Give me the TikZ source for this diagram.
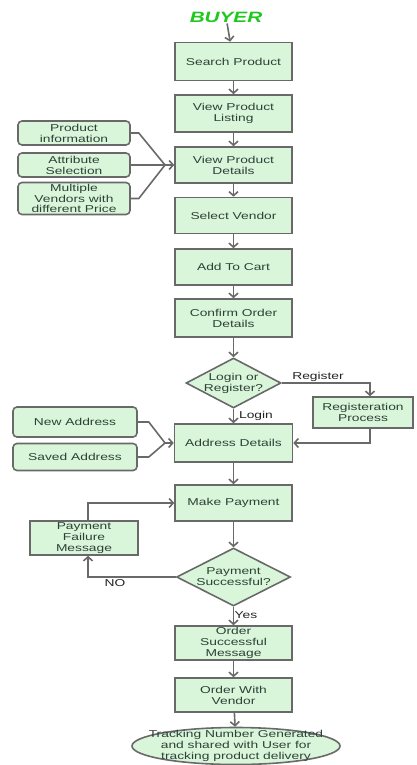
\documentclass[tikz,border=0pt]{standalone}
\usepackage{fontspec}
\setmainfont[FakeStretch=1.38]{Liberation Sans}
\usetikzlibrary{shapes.geometric,arrows.meta}
\definecolor{boxfill}{RGB}{218,246,218}
\definecolor{boxline}{RGB}{105,105,105}
\definecolor{txt}{RGB}{45,65,55}
\definecolor{buyergreen}{RGB}{30,200,30}
\definecolor{labtxt}{RGB}{35,35,35}
\begin{document}
\begin{tikzpicture}[x=1pt,y=-1pt,
  base/.style={draw=boxline, line width=1.6pt, fill=boxfill, text=txt,
    font=\fontsize{10}{11}\selectfont, align=center, inner sep=0pt},
  mainbox/.style={base, minimum width=117pt, minimum height=#1},
  sqbox/.style={base},
  rbox/.style={base, rounded corners=4pt},
  dia/.style={base, diamond},
  txtlab/.style={text=txt, font=\fontsize{10}{11}\selectfont, align=center, inner sep=0pt},
  flowlab/.style={text=labtxt, font=\fontsize{10}{11}\selectfont, inner sep=0pt},
  conn/.style={draw=boxline, line width=1.6pt},
  arr/.style={conn, -{Straight Barb[length=4pt,width=9pt]}}
]
\useasboundingbox (0,0) rectangle (417,765);

\node[font=\fontsize{15}{15}\selectfont\bfseries\itshape, text=buyergreen, inner sep=1pt] (buyer) at (226,17) {BUYER};
\node[mainbox=38pt] (search) at (233.5,61.5) {Search Product};
\node[mainbox=37pt] (listing) at (233.5,113.5) {View Product\\Listing};
\node[mainbox=36pt] (details) at (233.5,165) {View Product\\Details};
\node[mainbox=36pt] (vendor) at (233.5,215.5) {Select Vendor};
\node[mainbox=36pt] (cart) at (233.5,267) {Add To Cart};
\node[mainbox=38pt] (confirm) at (233.5,318) {Confirm Order\\Details};
\node[dia, minimum width=95pt, minimum height=50pt,
  label={[txtlab]center:Login or\\Register?}] (login) at (233.5,383) {};
\node[mainbox=38pt, minimum width=118pt] (address) at (233.5,443) {Address Details};
\node[sqbox, minimum width=100pt, minimum height=31pt] (reg) at (363,412.5) {Registeration\\Process};
\node[rbox, minimum width=124pt, minimum height=30pt] (newaddr) at (75,422) {New Address};
\node[rbox, minimum width=124pt, minimum height=27pt] (saved) at (75,457) {Saved Address};
\node[mainbox=36pt] (pay) at (233.5,503) {Make Payment};
\node[sqbox, minimum width=108pt, minimum height=34pt] (fail) at (84,538) {Payment\\Failure\\Message};
\node[dia, minimum width=114pt, minimum height=58pt,
  label={[txtlab]center:Payment\\Successful?}] (psucc) at (233.5,577) {};
\node[mainbox=34pt] (osucc) at (233.5,643) {Order\\Successful\\Message};
\node[mainbox=34pt] (owv) at (233.5,695) {Order With\\Vendor};
\node[base, ellipse, minimum width=208pt, minimum height=37pt,
  label={[txtlab]center:Tracking Number Generated\\and shared with User for\\tracking product delivery}] (track) at (236,746) {};

\node[rbox, minimum width=112pt, minimum height=24pt] (pinfo) at (74,133) {Product\\information};
\node[rbox, minimum width=112pt, minimum height=24pt] (attr) at (74,165) {Attribute\\Selection};
\node[rbox, minimum width=112pt, minimum height=32pt, font=\fontsize{10}{10.5}\selectfont] (multi) at (74,198.5) {Multiple\\Vendors with\\different Price};

\coordinate (j1) at (165,165);
\coordinate (j2) at (165,443);

\node[flowlab] (lreg) at (318,377) {Register};
\node[flowlab] (llogin) at (256,416) {Login};
\node[flowlab] (lno) at (115,583) {NO};
\node[flowlab] (lyes) at (246,615) {Yes};

\draw[arr] (buyer) -- (search);
\draw[arr] (search) -- (listing);
\draw[arr] (listing) -- (details);
\draw[arr] (details) -- (vendor);
\draw[arr] (vendor) -- (cart);
\draw[arr] (cart) -- (confirm);
\draw[arr] (confirm) -- (login);
\draw[arr] (login) -- (address);
\draw[arr] (address) -- (pay);
\draw[arr] (pay) -- (psucc);
\draw[arr] (psucc) -- (osucc);
\draw[arr] (osucc) -- (owv);
\draw[arr] (owv) -- (track);

\draw[conn] (pinfo.east) -- ++(8,0) -- (j1);
\draw[conn] (attr.east) -- (j1);
\draw[conn] (multi.east) -- ++(8,0) -- (j1);
\draw[arr] (j1) -- (details.west);

\draw[conn] (newaddr.east) -- ++(11,0) -- (j2);
\draw[conn] (saved.east) -- ++(11,0) -- (j2);
\draw[arr] (j2) -- (address.west);

\draw[arr] (login.east) -| ([xshift=7pt]reg.north);
\draw[arr] ([xshift=7pt]reg.south) |- (address.east);

\draw[arr] (psucc.west) -| ([xshift=4pt]fail.south);
\draw[arr] ([xshift=4pt]fail.north) |- (pay.west);
\end{tikzpicture}
\end{document}
